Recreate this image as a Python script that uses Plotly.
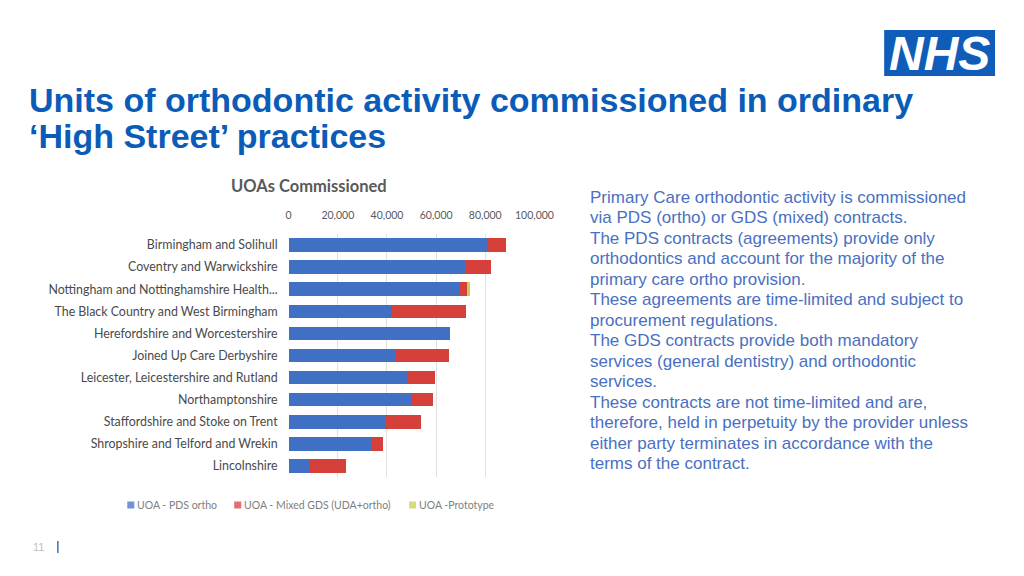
import plotly.graph_objects as go

# Figure size chosen so the page renders at 1024x576 (browser body margin 8px)
W, H = 1008, 560
OFFX, OFFY = 10.1, 8
SX = 0.979  # measured horizontal scale of the rendered page

regions = [
    "Birmingham and Solihull",
    "Coventry and Warwickshire",
    "Nottingham and Nottinghamshire Health...",
    "The Black Country and West Birmingham",
    "Herefordshire and Worcestershire",
    "Joined Up Care Derbyshire",
    "Leicester, Leicestershire and Rutland",
    "Northamptonshire",
    "Staffordshire and Stoke on Trent",
    "Shropshire and Telford and Wrekin",
    "Lincolnshire",
]
pds_ortho = [80750, 71900, 69600, 42100, 65800, 43400, 48200, 49800, 39400, 33300, 8100]
mixed_gds = [7850, 10600, 3000, 30200, 0, 21700, 11500, 9000, 14500, 5100, 15400]
prototype = [0, 0, 1060, 0, 0, 0, 0, 0, 0, 0, 0]

x_ticks = [0, 20000, 40000, 60000, 80000, 100000]

series_names = ["UOA - PDS ortho", "UOA - Mixed GDS (UDA+ortho)", "UOA -Prototype"]
series_colors = ["#4070C4", "#D6403B", "#C9CF4E"]

title_lines = ["Units of orthodontic activity commissioned in ordinary",
               "\u2018High Street\u2019 practices"]
chart_title = "UOAs Commissioned"
body_lines = [
    "Primary Care orthodontic activity is commissioned",
    "via PDS (ortho) or GDS (mixed) contracts.",
    "The PDS contracts (agreements) provide only",
    "orthodontics and account for the majority of the",
    "primary care ortho provision.",
    "These agreements are time-limited and subject to",
    "procurement regulations.",
    "The GDS contracts provide both mandatory",
    "services (general dentistry) and orthodontic",
    "services.",
    "These contracts are not time-limited and are,",
    "therefore, held in perpetuity by the provider unless",
    "either party terminates in accordance with the",
    "terms of the contract.",
]


def px(x):
    return (x - OFFX) / SX / W


def py(y):
    return 1 - (y - OFFY) / H


fig = go.Figure()
for name, vals, col in zip(series_names, [pds_ortho, mixed_gds, prototype], series_colors):
    fig.add_trace(go.Bar(
        y=regions, x=vals, name=name, orientation="h",
        marker=dict(color=col, line=dict(width=0)),
        showlegend=False,
    ))

tick_font = "Lato, Liberation Sans, sans-serif"
fig.update_layout(
    width=W, height=H,
    margin=dict(l=0, r=0, t=0, b=0),
    paper_bgcolor="white", plot_bgcolor="white",
    barmode="stack", bargap=0.39,
    showlegend=False,
    xaxis=dict(
        domain=[px(288), px(534)], range=[0, 100000], side="top",
        tickvals=x_ticks, tickformat=",", showgrid=True, gridcolor="#E0E0E0", gridwidth=1,
        zeroline=False, showline=False, ticks="", ticklabelstandoff=12,
        tickfont=dict(family=tick_font, size=10.5, color="#595959"),
    ),
    yaxis=dict(
        domain=[py(477), py(234)], autorange="reversed", showgrid=False,
        showline=False, ticks="", ticklabelstandoff=10,
        tickfont=dict(family=tick_font, size=12.4, color="#4A4A4A"),
    ),
    font=dict(family="Liberation Sans, Arial, sans-serif"),
)

annotations = []
for i, line in enumerate(title_lines):
    annotations.append(dict(
        x=px(26), y=py(100 + 36 * i), xref="paper", yref="paper",
        xanchor="left", yanchor="middle", text=line, showarrow=False, align="left",
        font=dict(family="Liberation Sans, Arial, sans-serif", size=34,
                  color="#0B5CB8", weight="bold")))

annotations.append(dict(
    x=px(308), y=py(186), xref="paper", yref="paper", xanchor="center", yanchor="middle",
    text=chart_title, showarrow=False,
    font=dict(family=tick_font, size=16.5, color="#595959", weight="bold")))

for i, line in enumerate(body_lines):
    annotations.append(dict(
        x=px(588), y=py(197.5 + 20.46 * i), xref="paper", yref="paper",
        xanchor="left", yanchor="middle", text=line, showarrow=False, align="left",
        font=dict(family="Liberation Sans, Arial, sans-serif", size=17, color="#4A6FC2")))

annotations.append(dict(
    x=px(939.5), y=py(53), xref="paper", yref="paper", xanchor="center", yanchor="middle",
    text="NHS", showarrow=False,
    font=dict(family="Liberation Sans, Arial, sans-serif", size=48, color="white",
              weight="bold", style="italic")))

annotations.append(dict(
    x=px(30), y=py(547), xref="paper", yref="paper", xanchor="left", yanchor="middle",
    text="11", showarrow=False,
    font=dict(family="Liberation Sans, Arial, sans-serif", size=11, color="#BFBFBF")))

# manual legend (small square swatches + labels)
legend_x = [130, 237, 412]
for name, col, lx in zip(series_names, series_colors, legend_x):
    fig.add_shape(type="rect", xref="paper", yref="paper",
                  x0=px(lx - 3.5), x1=px(lx + 3.5), y0=py(508.5), y1=py(501.5),
                  fillcolor=col, opacity=0.75, line=dict(width=0))
    annotations.append(dict(
        x=px(lx + 4), y=py(505), xref="paper", yref="paper", xanchor="left", yanchor="middle",
        text=name, showarrow=False,
        font=dict(family=tick_font, size=10.5, color="#808080")))

fig.update_layout(annotations=annotations)

fig.add_shape(type="rect", xref="paper", yref="paper",
              x0=px(884), x1=px(995), y0=py(76), y1=py(30),
              fillcolor="#0F5DB8", line=dict(width=0), layer="below")
fig.add_shape(type="line", xref="paper", yref="paper",
              x0=px(57), x1=px(57), y0=py(541), y1=py(553),
              line=dict(color="#3F6FB5", width=1.5))

fig.write_html("out.html")
